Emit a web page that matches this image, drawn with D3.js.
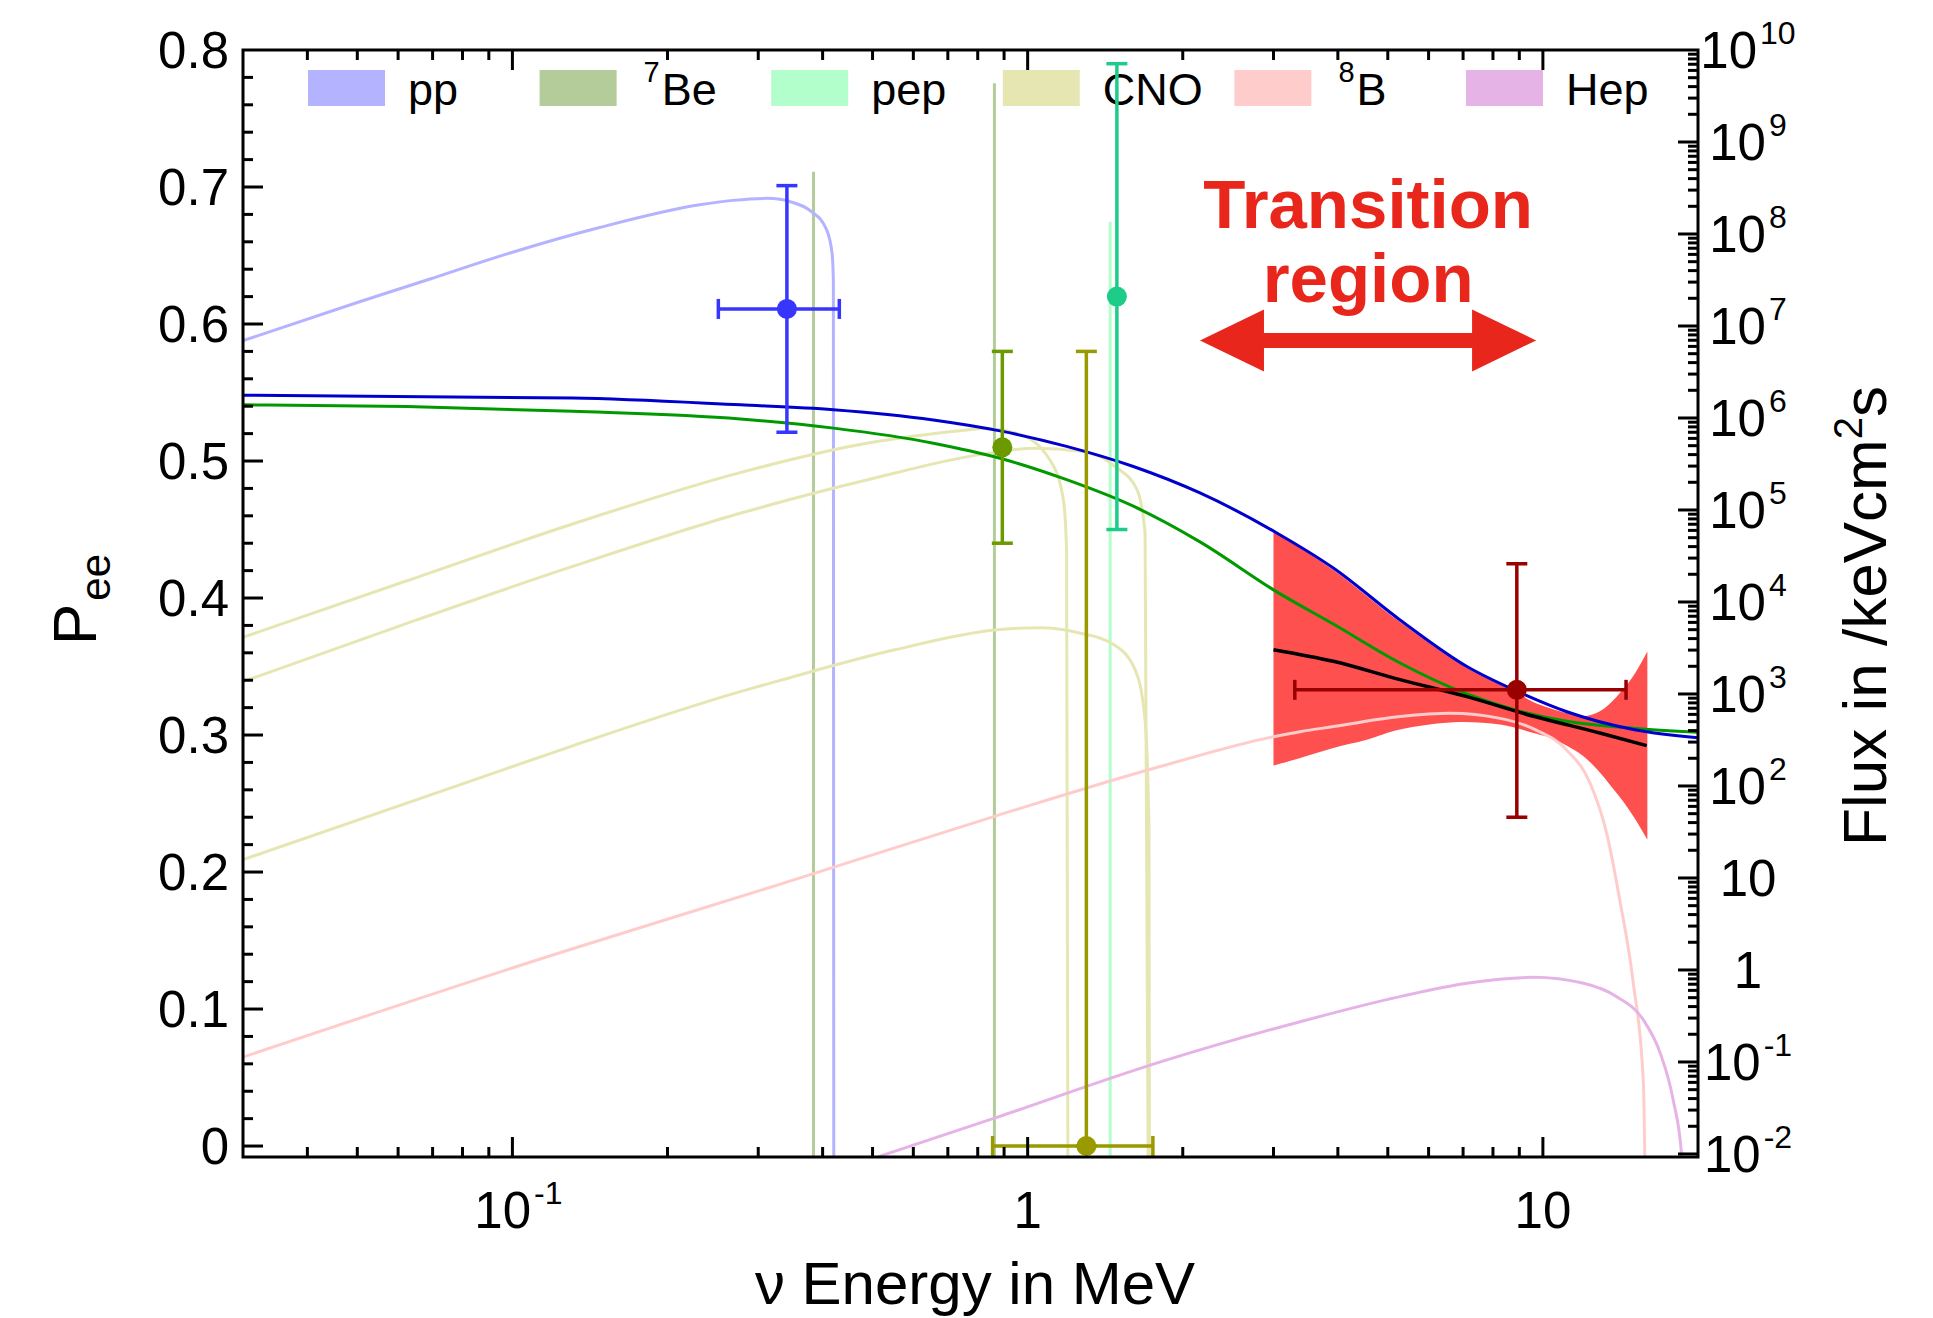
<!DOCTYPE html>
<html><head><meta charset="utf-8">
<script src="https://cdn.jsdelivr.net/npm/d3@7"></script>
<style>
html,body{margin:0;padding:0;background:#fff;}
svg{display:block;font-family:"Liberation Sans",Arial,Helvetica,sans-serif;}
</style>
</head><body>
<svg id="chart" width="1933" height="1318"></svg>
<script>
// ================= DATA =================
// legend
const sources    = ["pp", "7Be", "pep", "CNO", "8B", "Hep"];
const legendMain = ["pp", "Be", "pep", "CNO", "B", "Hep"];
const legendSup  = ["", "7", "", "", "8", ""];

// tick labels
const xTickValues = [0.1, 1, 10];
const xTickBase   = ["10", "1", "10"];
const xTickSup    = ["-1", "", ""];
const peeTickValues = [0, 0.1, 0.2, 0.3, 0.4, 0.5, 0.6, 0.7, 0.8];
const peeTickLabels = ["0", "0.1", "0.2", "0.3", "0.4", "0.5", "0.6", "0.7", "0.8"];
const fluxTickValues = [1e-2, 1e-1, 1, 10, 1e2, 1e3, 1e4, 1e5, 1e6, 1e7, 1e8, 1e9, 1e10];
const fluxTickBase   = ["10", "10", "1", "10", "10", "10", "10", "10", "10", "10", "10", "10", "10"];
const fluxTickSup    = ["-2", "-1", "", "", "2", "3", "4", "5", "6", "7", "8", "9", "10"];

// survival probability curves (energy in MeV, Pee)
const blueE   = [0.03, 0.131, 0.277, 0.42, 0.656, 0.884, 1.19, 1.604, 2.16, 3.045, 3.92, 5.28, 7.12, 8.9, 11.13, 14.98, 20];
const blueP   = [0.548, 0.546, 0.541, 0.5375, 0.530, 0.522, 0.5107, 0.496, 0.4767, 0.4475, 0.4219, 0.384, 0.350, 0.332, 0.317, 0.304, 0.298];
const greenE  = [0.03, 0.0624, 0.131, 0.277, 0.42, 0.656, 0.884, 1.19, 1.604, 2.16, 3.045, 3.92, 5.28, 7.12, 8.9, 11.13, 14.98, 20];
const greenP  = [0.541, 0.5397, 0.5363, 0.5307, 0.524, 0.513, 0.502, 0.4864, 0.467, 0.441, 0.4045, 0.381, 0.3526, 0.330, 0.318, 0.310, 0.305, 0.302];
const fitE    = [3.0, 3.92, 5.28, 7.12, 9.59, 12.9, 15.9];
const fitP    = [0.3623, 0.3538, 0.3404, 0.328, 0.3137, 0.3015, 0.2923];
const bandUpE = [3.0, 3.92, 5.28, 7.12, 8.9, 9.59, 11.13, 11.99, 12.9, 13.9, 14.98, 15.95];
const bandUpP = [0.449, 0.4205, 0.3825, 0.349, 0.331, 0.324, 0.316, 0.3137, 0.3173, 0.328, 0.343, 0.361];
const bandLoE = [3.0, 3.38, 3.92, 4.55, 5.28, 6.7, 8.26, 9.59, 10.33, 11.99, 13.9, 14.98, 15.95];
const bandLoP = [0.2777, 0.2833, 0.2906, 0.2966, 0.304, 0.3093, 0.3076, 0.3015, 0.2979, 0.2845, 0.2577, 0.2407, 0.2237];

// neutrino spectra (energy in MeV, flux in /keV cm^2 s)
const ppE    = [0.03, 0.05, 0.0692, 0.091, 0.147, 0.231, 0.268, 0.312, 0.35, 0.378, 0.407, 0.4175, 0.4197, 0.4206];
const ppF    = [6.92e6, 1.80e7, 3.24e7, 5.37e7, 1.17e8, 2.08e8, 2.32e8, 2.44e8, 2.20e8, 1.80e8, 1.12e8, 6.0e7, 2.95e7, 1e-4];
const be7E   = [0.384, 0.862];
const be7F   = [4.75e8, 4.35e9];
const pepE   = [1.446];
const pepF   = [1.36e8];
const n13E   = [0.03, 0.0624, 0.1313, 0.2767, 0.487, 0.762, 0.82, 0.953, 1.105, 1.173, 1.19, 1.199];
const n13F   = [4.13e3, 1.70e4, 7.08e4, 2.55e5, 5.31e5, 7.41e5, 7.71e5, 6.81e5, 3.49e5, 1.29e5, 3.67e4, 1e-4];
const o15E   = [0.03, 0.0624, 0.1313, 0.2767, 0.487, 0.884, 1.026, 1.283, 1.48, 1.63, 1.69, 1.72];
const o15F   = [1.36e3, 5.86e3, 2.45e4, 9.20e4, 2.12e5, 4.31e5, 4.68e5, 4.31e5, 2.95e5, 1.66e5, 5.62e4, 1e-4];
const f17E   = [0.03, 0.084, 0.1313, 0.2767, 0.33, 0.552, 0.862, 1.058, 1.256, 1.466, 1.62, 1.69, 1.72, 1.725];
const f17F   = [15.8, 116, 275, 1.06e3, 1.40e3, 3.02e3, 4.97e3, 5.25e3, 4.63e3, 3.47e3, 1.78e3, 513, 34.7, 1e-4];
const b8E    = [0.03, 0.124, 0.33, 0.862, 1.83, 3.0, 3.38, 3.92, 5.28, 6.6, 8.26, 9.59, 11.13, 12.35, 13.3, 14.1, 14.98, 15.67, 15.9];
const b8F    = [0.113, 1.55, 8.51, 46.8, 166, 343, 389, 442, 568, 617, 543, 417, 245, 107, 30.6, 5.77, 0.716, 0.0589, 1e-4];
const hepE   = [0.512, 0.862, 1.83, 3.38, 5.28, 7.12, 9.59, 11.99, 13.9, 15.67, 16.9, 17.9, 18.6, 18.7];
const hepF   = [0.0093, 0.0245, 0.102, 0.274, 0.513, 0.716, 0.832, 0.716, 0.513, 0.286, 0.124, 0.0386, 0.0093, 1e-4];

// measurements
const measName  = ["pp", "7Be", "CNO", "pep", "8B"];
const measE     = [0.341, 0.893, 1.30, 1.49, 8.90];
const measP     = [0.611, 0.510, 0.0, 0.620, 0.333];
const measPLow  = [0.521, 0.440, 0.0, 0.450, 0.240];
const measPHigh = [0.701, 0.580, 0.580, 0.790, 0.425];
const measELow  = [0.251, null, 0.855, null, 3.30];
const measEHigh = [0.431, null, 1.75, null, 14.5];

// annotation (transition region)
const arrowE   = [2.16, 9.7];
const arrowP   = 0.588;
const noteE    = 4.58;
const noteLines = ["Transition", "region"];
const noteP    = [0.670, 0.6163];

// ================= STYLES =================
const specColor = {pp:"#b3b3ff", "7Be":"#b3cc99", pep:"#b3ffcc", CNO:"#e6e6b3", "8B":"#ffcccc", Hep:"#e6b3e6"};
const measColor = {pp:"#3636ff", "7Be":"#6b9900", CNO:"#999900", pep:"#1dcc88", "8B":"#990000"};
const FONT = 51, SUP = 32;

// ================= SCALES =================
const plot = {left:243, right:1698, top:50, bottom:1157};
const x  = d3.scaleLog().domain([0.03, 20]).range([plot.left, plot.right]);
const yP = d3.scaleLinear().domain([-0.008, 0.8]).range([plot.bottom, plot.top]);
const yF = d3.scaleLog().domain([Math.pow(10, -2.033), 1e10]).range([plot.bottom, plot.top]);

const svg = d3.select("#chart");
svg.append("rect").attr("width",1933).attr("height",1318).attr("fill","#fff");

svg.append("defs").append("clipPath").attr("id","clip")
  .append("rect").attr("x",plot.left).attr("y",plot.top)
  .attr("width",plot.right-plot.left).attr("height",plot.bottom-plot.top);

// ---- legend ----
const lx = d3.scalePoint().domain(sources).range([308, 308 + 5*231.6]);
const legend = svg.append("g");
sources.forEach((s,i)=>{
  const x0 = lx(s);
  legend.append("rect").attr("x",x0).attr("y",70).attr("width",77).attr("height",36).attr("fill",specColor[s]);
  const t = legend.append("text").attr("x", x0 + (legendSup[i] ? 104 : 100)).attr("y",105).attr("font-size",45).attr("fill","#000");
  if (legendSup[i]) {
    t.append("tspan").attr("font-size",29).attr("dy",-23).text(legendSup[i]);
    t.append("tspan").attr("dy",23).attr("dx",2).text(legendMain[i]);
  } else t.text(legendMain[i]);
});

const plotG = svg.append("g").attr("clip-path","url(#clip)");

// ---- red band ----
const bandLine = d3.line().x(d=>x(d[0])).y(d=>yP(d[1])).curve(d3.curveCatmullRom.alpha(0.5));
const up = bandUpE.map((e,i)=>[e, bandUpP[i]]);
const lo = bandLoE.map((e,i)=>[e, bandLoP[i]]).reverse();
plotG.append("path").attr("d", bandLine(up) + bandLine(lo).replace(/^M/,"L") + "Z").attr("fill","#ff5050");

// ---- spectra ----
const specLine = d3.line().x(d=>x(d[0])).y(d=>yF(d[1])).curve(d3.curveMonotoneX);
function spec(E, F, col){
  plotG.append("path").attr("d", specLine(E.map((e,i)=>[e,F[i]])))
    .attr("fill","none").attr("stroke",col).attr("stroke-width",3);
}
be7E.forEach((e,i)=>plotG.append("line").attr("x1",x(e)).attr("x2",x(e)).attr("y1",yF(be7F[i])).attr("y2",plot.bottom)
  .attr("stroke",specColor["7Be"]).attr("stroke-width",3));
pepE.forEach((e,i)=>plotG.append("line").attr("x1",x(e)).attr("x2",x(e)).attr("y1",yF(pepF[i])).attr("y2",plot.bottom)
  .attr("stroke",specColor.pep).attr("stroke-width",3));
spec(ppE, ppF, specColor.pp);
spec(n13E, n13F, specColor.CNO);
spec(o15E, o15F, specColor.CNO);
spec(f17E, f17F, specColor.CNO);
spec(b8E, b8F, specColor["8B"]);
spec(hepE, hepF, specColor.Hep);

// ---- Pee curves ----
const peeLine = d3.line().x(d=>x(d[0])).y(d=>yP(d[1])).curve(d3.curveMonotoneX);
plotG.append("path").attr("d", peeLine(greenE.map((e,i)=>[e,greenP[i]]))).attr("fill","none").attr("stroke","#009900").attr("stroke-width",3);
plotG.append("path").attr("d", peeLine(blueE.map((e,i)=>[e,blueP[i]]))).attr("fill","none").attr("stroke","#0000cc").attr("stroke-width",3);
plotG.append("path").attr("d", peeLine(fitE.map((e,i)=>[e,fitP[i]]))).attr("fill","none").attr("stroke","#000").attr("stroke-width",3.5);

// ---- measurements ----
const mg = svg.append("g");
measName.forEach((n,i)=>{
  const c = measColor[n], cx = x(measE[i]), cy = yP(measP[i]);
  const g = mg.append("g").attr("stroke",c).attr("stroke-width",3.5).attr("fill",c);
  g.append("line").attr("x1",cx).attr("x2",cx).attr("y1",yP(measPLow[i])).attr("y2",yP(measPHigh[i]));
  [measPLow[i], measPHigh[i]].forEach(v=>g.append("line").attr("x1",cx-10.5).attr("x2",cx+10.5).attr("y1",yP(v)).attr("y2",yP(v)));
  if (measELow[i] !== null) {
    g.append("line").attr("x1",x(measELow[i])).attr("x2",x(measEHigh[i])).attr("y1",cy).attr("y2",cy);
    [measELow[i], measEHigh[i]].forEach(v=>g.append("line").attr("x1",x(v)).attr("x2",x(v)).attr("y1",cy-10).attr("y2",cy+10));
  }
  g.append("circle").attr("cx",cx).attr("cy",cy).attr("r",10).attr("stroke","none");
});

// ---- annotation ----
const red = "#e8261c";
const ax0 = x(arrowE[0]), ax1 = x(arrowE[1]), ay = yP(arrowP);
const hl = 64, hh = 31, sh = 7.5;
svg.append("path").attr("fill",red).attr("d",
  `M${ax0},${ay} L${ax0+hl},${ay-hh} L${ax0+hl},${ay-sh} L${ax1-hl},${ay-sh} L${ax1-hl},${ay-hh} L${ax1},${ay} L${ax1-hl},${ay+hh} L${ax1-hl},${ay+sh} L${ax0+hl},${ay+sh} L${ax0+hl},${ay+hh} Z`);
noteLines.forEach((t,i)=>svg.append("text").attr("x",x(noteE)).attr("y",yP(noteP[i]))
  .attr("text-anchor","middle").attr("font-size",69).attr("font-weight","bold").attr("fill",red).text(t));

// ---- axes (ticks inward) ----
const ax = svg.append("g").attr("stroke","#000").attr("stroke-width",3);
const isDecade = v => Math.abs(Math.log10(v) - Math.round(Math.log10(v))) < 1e-9;
x.ticks(20).forEach(v=>{
  const L = isDecade(v) ? 20 : 10, px = x(v);
  if (px <= plot.left+1 || px >= plot.right-1) return;
  ax.append("line").attr("x1",px).attr("x2",px).attr("y1",plot.bottom).attr("y2",plot.bottom-L);
  ax.append("line").attr("x1",px).attr("x2",px).attr("y1",plot.top).attr("y2",plot.top+L);
});
yP.ticks(40).forEach(v=>{
  const m = Math.abs(v*10 - Math.round(v*10)) < 1e-6;
  const L = m ? 20 : 10, py = yP(v);
  if (py <= plot.top+1) return;
  ax.append("line").attr("x1",plot.left).attr("x2",plot.left+L).attr("y1",py).attr("y2",py);
});
yF.ticks(50).forEach(v=>{
  const L = isDecade(v) ? 20 : 10, py = yF(v);
  if (py <= plot.top+1 || py >= plot.bottom) return;
  ax.append("line").attr("x1",plot.right).attr("x2",plot.right-L).attr("y1",py).attr("y2",py);
});
svg.append("rect").attr("x",plot.left).attr("y",plot.top).attr("width",plot.right-plot.left).attr("height",plot.bottom-plot.top)
  .attr("fill","none").attr("stroke","#000").attr("stroke-width",3);

// ---- tick labels ----
const lab = svg.append("g").attr("fill","#000").attr("font-size",FONT);
function supText(t, base, sup){
  t.append("tspan").text(base);
  if (sup) t.append("tspan").attr("font-size",SUP).attr("dx",3).attr("dy",-24).text(sup);
}
xTickValues.forEach((v,i)=>{
  const t = lab.append("text").attr("x",x(v)+(xTickSup[i]?6:0)).attr("y",1228).attr("text-anchor","middle");
  supText(t, xTickBase[i], xTickSup[i]);
});
peeTickValues.forEach((v,i)=>{
  lab.append("text").attr("x",229).attr("y",yP(v)).attr("dy","0.36em").attr("text-anchor","end").text(peeTickLabels[i]);
});
fluxTickValues.forEach((v,i)=>{
  const t = lab.append("text").attr("x",1748).attr("y",yF(v)+18).attr("text-anchor","middle");
  supText(t, fluxTickBase[i], fluxTickSup[i]);
});

// ---- axis titles ----
svg.append("text").attr("x",975).attr("y",1304).attr("text-anchor","middle").attr("font-size",60).text("ν Energy in MeV");
const pt = svg.append("text").attr("transform","translate(96,645) rotate(-90)").attr("font-size",62);
pt.append("tspan").text("P");
pt.append("tspan").attr("font-size",42).attr("dy",14).attr("dx",3).text("ee");
const ft = svg.append("text").attr("transform","translate(1886,616) rotate(-90)").attr("text-anchor","middle").attr("font-size",62);
ft.append("tspan").text("Flux in /keVcm");
ft.append("tspan").attr("font-size",40).attr("dy",-24).text("2");
ft.append("tspan").attr("dy",24).text("s");
</script>
</body></html>
